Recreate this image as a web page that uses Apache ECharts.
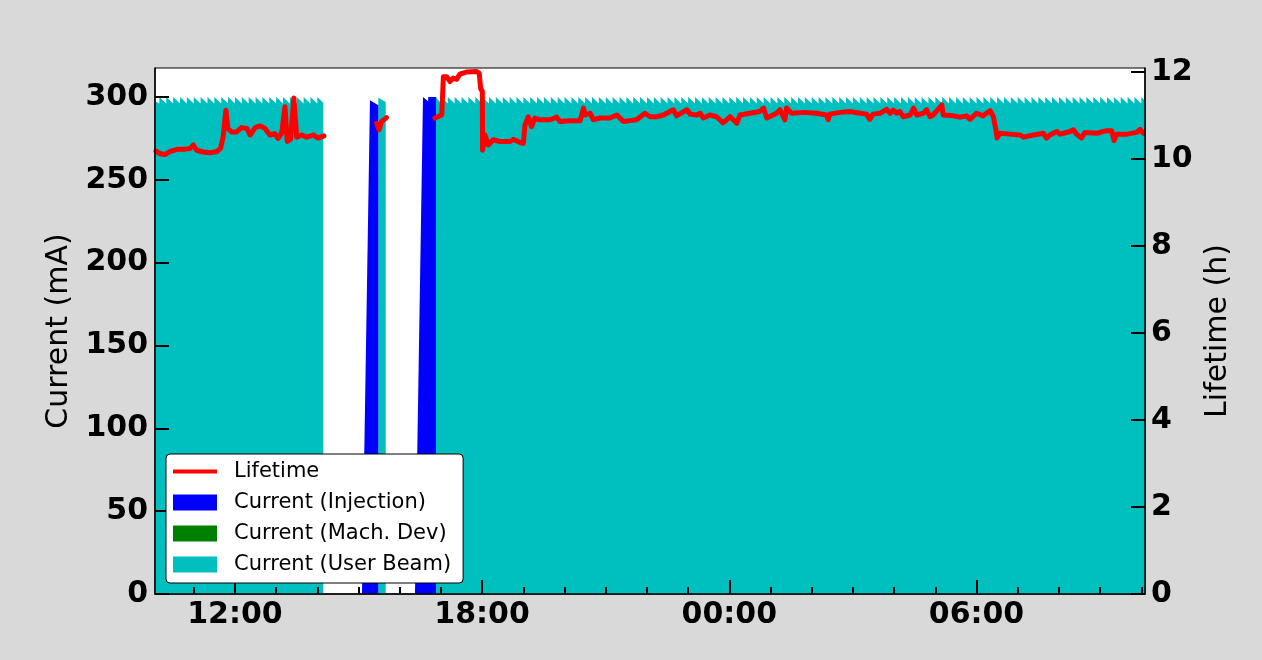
<!DOCTYPE html>
<html>
<head>
<meta charset="utf-8">
<script src="https://cdn.jsdelivr.net/npm/echarts@6/dist/echarts.min.js"></script>
<style>
html,body{margin:0;padding:0;background:#d9d9d9;}
#chart{width:1262px;height:660px;}
</style>
</head>
<body>
<div id="chart"></div>
<script>
// ---- Data (times in minutes since 00:00 of day 1, or hours where noted) ----
const xMinMinutes = 603.6;   // ~10:04
const xMaxMinutes = 2045.4;  // ~10:05 next day

const majorTickMinutes = [720, 1080, 1440, 1800];
const hourTickMinutes = [660,720,780,840,900,960,1020,1080,1140,1200,1260,1320,1380,1440,1500,1560,1620,1680,1740,1800,1860,1920,1980,2040];
const currentTickLabels = [0, 50, 100, 150, 200, 250, 300];
const lifetimeTickLabels = [0, 2, 4, 6, 8, 10, 12];

// top-up sawtooth: current just after / just before top-up (mA)
const topupPeak = 300;
const topupFloor = 296;

// user beam segment A
const userA_start = [603.6, 297.5];
const userA_topups = [610,620,630,640,650,660,670,680,690,700,710,720,730,740,750,760,770,780,790,800,810,820,830,840];
const userA_end = [848.7, 296.5];

// user beam segment B (short, between injections)
const userB_points = [[928.8, 299.5], [939.6, 297.0]];

// user beam segment C
const userC_start = [1012.8, 300];
const userC_topups = [1020,1030,1040,1050,1060,1070,1080,1090,1100,1110,
  1120,1130,1140,1150,1160,1170,1180,1190,1200,1210,
  1220,1230,1240,1250,1260,1270,1280,1290,1300,1310,
  1320,1330,1340,1350,1360,1370,1380,1390,1400,1410,
  1420,1430,1440,1450,1460,1470,1480,1490,1500,1510,
  1520,1530,1540,1550,1560,1570,1580,1590,1600,1610,
  1620,1630,1640,1650,1660,1670,1680,1690,1700,1710,
  1720,1730,1740,1750,1760,1770,1780,1790,1800,1810,
  1820,1830,1840,1850,1860,1870,1880,1890,1900,1910,
  1920,1930,1940,1950,1960,1970,1980,1990,2000,2010,
  2020,2030,2040];
const userC_end = [2045.4, 297.8];

// injection periods [hours, mA]
const injection1 = [[15.084, 0], [15.278, 298], [15.48, 295]];
const injection2 = [[16.37, 0], [16.565, 300], [16.69, 297.5], [16.692, 300], [16.88, 300]];

// lifetime segments [hours, h]
const lifetimeA = [[10.084,10.18],[10.18,10.12],[10.30,10.10],[10.42,10.17],[10.59,10.22],[10.75,10.22],[10.91,10.24],[10.99,10.32],[11.07,10.20],[11.23,10.16],[11.39,10.14],[11.56,10.17],[11.655,10.25],[11.72,10.55],[11.78,11.12],[11.83,10.70],[11.92,10.62],[12.04,10.62],[12.16,10.72],[12.29,10.70],[12.37,10.55],[12.49,10.72],[12.61,10.76],[12.73,10.70],[12.85,10.55],[12.97,10.58],[13.05,10.47],[13.135,10.60],[13.215,11.20],[13.27,10.40],[13.35,10.45],[13.43,11.40],[13.50,10.50],[13.62,10.55],[13.74,10.50],[13.90,10.55],[14.02,10.48],[14.16,10.53]];
const lifetimeB = [[15.44,10.82],[15.50,10.67],[15.56,10.86],[15.68,10.95]];
const lifetimeC = [[16.856,10.94],[17.02,11.01],[17.06,11.89],[17.14,11.89],[17.22,11.78],[17.30,11.86],[17.38,11.83],[17.46,11.95],[17.63,12.0],[17.87,12.01],[17.93,11.97],[17.965,11.62],[18.005,11.55],[18.01,10.20],[18.07,10.55],[18.15,10.32],[18.27,10.44],[18.43,10.40],[18.68,10.40],[18.76,10.45],[18.92,10.38],[19.0,10.36],[19.04,10.78],[19.12,10.97],[19.20,10.74],[19.28,10.94],[19.40,10.90],[19.65,10.90],[19.81,10.96],[19.89,10.86],[20.13,10.88],[20.38,10.88],[20.46,11.17],[20.50,11.01],[20.62,11.05],[20.70,10.90],[20.86,10.94],[21.10,10.94],[21.27,11.01],[21.43,10.86],[21.59,10.88],[21.75,10.90],[21.95,11.05],[22.08,10.97],[22.24,10.97],[22.40,11.01],[22.64,11.13],[22.72,10.99],[22.97,11.13],[23.05,11.03],[23.21,11.01],[23.29,11.05],[23.37,10.94],[23.53,11.01],[23.69,10.97],[23.85,10.83],[24.02,10.97],[24.18,10.82],[24.26,11.01],[24.50,11.05],[24.74,11.09],[24.83,11.17],[24.91,10.94],[25.15,11.05],[25.23,11.13],[25.35,10.90],[25.39,11.17],[25.51,11.05],[25.80,11.07],[26.12,11.05],[26.36,11.01],[26.40,10.90],[26.44,11.03],[26.69,11.07],[26.93,11.09],[27.17,11.05],[27.33,11.03],[27.41,10.91],[27.49,11.03],[27.66,11.05],[27.82,11.14],[27.90,11.05],[27.98,11.12],[28.06,11.05],[28.14,11.09],[28.22,10.97],[28.39,11.01],[28.47,11.17],[28.55,11.01],[28.71,11.05],[28.79,11.13],[28.87,10.97],[28.95,11.01],[29.16,11.24],[29.19,11.01],[29.44,10.99],[29.60,10.96],[29.76,10.99],[29.84,10.91],[30.00,11.05],[30.16,10.99],[30.33,11.11],[30.41,10.97],[30.47,10.67],[30.50,10.48],[30.57,10.59],[30.81,10.57],[31.06,10.55],[31.14,10.50],[31.38,10.55],[31.62,10.59],[31.70,10.48],[31.78,10.55],[31.95,10.63],[32.03,10.57],[32.27,10.63],[32.35,10.67],[32.43,10.57],[32.55,10.48],[32.63,10.61],[32.92,10.59],[33.16,10.65],[33.28,10.65],[33.34,10.42],[33.40,10.57],[33.65,10.57],[33.89,10.61],[33.97,10.68],[34.05,10.59]];

// ---- Build series data ----
function sawtooth(start, topups, end) {
  const pts = [start.slice()];
  topups.forEach(t => { pts.push([t, topupFloor]); pts.push([t, topupPeak]); });
  pts.push(end.slice());
  return pts;
}
const hToMin = arr => arr.map(p => [p[0] * 60, p[1]]);

const FONT = 'DejaVu Sans';
const CYAN = '#00bfbf', BLUE = '#0000ff', GREEN = '#008000', RED = '#ff0000';

function areaSeries(name, color, data) {
  return {
    name, type: 'line', xAxisIndex: 0, yAxisIndex: 0, data,
    symbol: 'none', showSymbol: false, color,
    lineStyle: { width: 0, color },
    areaStyle: { color, opacity: 1 },
    z: 2, silent: true
  };
}
function lifeSeries(data) {
  return {
    name: 'Lifetime', type: 'line', xAxisIndex: 0, yAxisIndex: 1, data: hToMin(data),
    symbol: 'none', showSymbol: false, color: RED,
    lineStyle: { width: 5, color: RED, join: 'round', cap: 'round' },
    z: 5, silent: true
  };
}

function fmtTime(v) {
  const m = ((Math.round(v) % 1440) + 1440) % 1440;
  const hh = Math.floor(m / 60), mm = m % 60;
  return String(hh).padStart(2, '0') + ':' + String(mm).padStart(2, '0');
}

const chart = echarts.init(document.getElementById('chart'), null, { renderer: 'canvas' });
chart.setOption({
  animation: false,
  backgroundColor: '#d9d9d9',
  textStyle: { fontFamily: FONT },
  grid: {
    left: 155, top: 68, right: 117, bottom: 66,
    show: true, backgroundColor: '#ffffff', borderColor: '#000', borderWidth: 1
  },
  legend: {
    orient: 'vertical', left: 166, top: 454, z: 20,
    backgroundColor: '#ffffff', borderColor: '#000', borderWidth: 1, borderRadius: 4,
    padding: [7, 12, 8, 7],
    itemWidth: 44, itemHeight: 16, itemGap: 10,
    textStyle: { fontFamily: FONT, fontSize: 21, color: '#000', lineHeight: 21, padding: [0, 0, 0, 12] },
    data: [
      { name: 'Lifetime', icon: 'path://M0,0M44,16M0,6L44,6L44,10L0,10Z', itemStyle: { color: RED } },
      { name: 'Current (Injection)', icon: 'rect' },
      { name: 'Current (Mach. Dev)', icon: 'rect' },
      { name: 'Current (User Beam)', icon: 'rect' }
    ]
  },
  xAxis: [
    {
      type: 'value', position: 'bottom', min: xMinMinutes, max: xMaxMinutes, z: 10,
      splitLine: { show: false },
      axisLine: { show: true, onZero: false, lineStyle: { color: '#000', width: 1.5 } },
      axisTick: { show: true, inside: true, length: 14, customValues: majorTickMinutes, lineStyle: { color: '#000', width: 2 } },
      axisLabel: { show: true, customValues: majorTickMinutes, formatter: fmtTime, fontFamily: FONT, fontSize: 30, fontWeight: 'bold', color: '#000', margin: 6 }
    },
    {
      type: 'value', position: 'bottom', min: xMinMinutes, max: xMaxMinutes, z: 10,
      splitLine: { show: false },
      axisLine: { show: false, onZero: false },
      axisTick: { show: true, inside: true, length: 7, customValues: hourTickMinutes, lineStyle: { color: '#000', width: 2 } },
      axisLabel: { show: false, customValues: hourTickMinutes }
    }
  ],
  yAxis: [
    {
      type: 'value', position: 'left', min: 0, max: 317.5, z: 10,
      name: 'Current (mA)', nameLocation: 'middle', nameGap: 69, nameRotate: 90,
      nameTextStyle: { fontFamily: FONT, fontSize: 30, color: '#000' },
      splitLine: { show: false },
      axisLine: { show: true, onZero: false, lineStyle: { color: '#000', width: 1.5 } },
      axisTick: { show: true, inside: true, length: 14, customValues: currentTickLabels, lineStyle: { color: '#000', width: 2 } },
      axisLabel: { customValues: currentTickLabels, fontFamily: FONT, fontSize: 30, fontWeight: 'bold', color: '#000', margin: 7, padding: [5, 0, 0, 0] }
    },
    {
      type: 'value', position: 'right', min: 0, max: 12.09, z: 10,
      name: 'Lifetime (h)', nameLocation: 'middle', nameGap: 53, nameRotate: 90,
      nameTextStyle: { fontFamily: FONT, fontSize: 30, color: '#000' },
      splitLine: { show: false },
      axisLine: { show: true, onZero: false, lineStyle: { color: '#000', width: 1.5 } },
      axisTick: { show: true, inside: true, length: 14, customValues: lifetimeTickLabels, lineStyle: { color: '#000', width: 2 } },
      axisLabel: { customValues: lifetimeTickLabels, fontFamily: FONT, fontSize: 30, fontWeight: 'bold', color: '#000', margin: 6, padding: [5, 0, 0, 0] }
    }
  ],
  series: [
    areaSeries('Current (User Beam)', CYAN, sawtooth(userA_start, userA_topups, userA_end)),
    areaSeries('Current (User Beam)', CYAN, userB_points),
    areaSeries('Current (User Beam)', CYAN, sawtooth(userC_start, userC_topups, userC_end)),
    areaSeries('Current (Injection)', BLUE, hToMin(injection1)),
    areaSeries('Current (Injection)', BLUE, hToMin(injection2)),
    areaSeries('Current (Mach. Dev)', GREEN, []),
    lifeSeries(lifetimeA),
    lifeSeries(lifetimeB),
    lifeSeries(lifetimeC)
  ]
});
</script>
</body>
</html>
